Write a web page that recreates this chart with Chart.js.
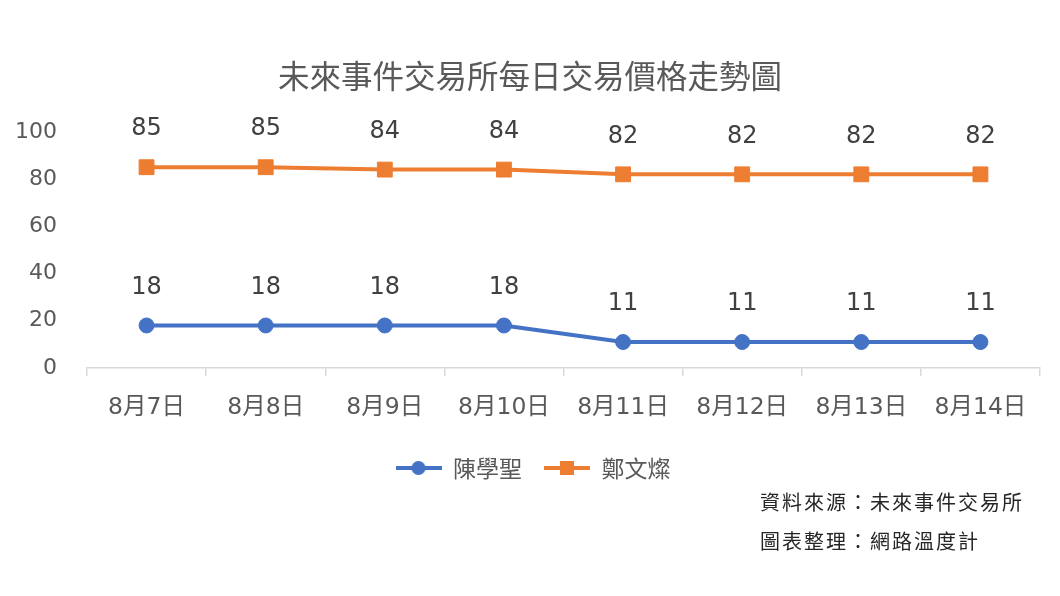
<!DOCTYPE html>
<html>
<head>
<meta charset="utf-8">
<script src="https://cdn.jsdelivr.net/npm/chart.js@4.4.1/dist/chart.umd.min.js"></script>
<style>
  html, body { margin: 0; padding: 0; background: #fff; }
  #wrap { position: relative; width: 1060px; height: 596px; }
  .source { position: absolute; left: 760px; font-family: "Noto Sans CJK TC", sans-serif; font-size: 20px; letter-spacing: 2px; color: #262626; line-height: 24px; white-space: nowrap; }
</style>
</head>
<body>
<div id="wrap">
  <canvas id="priceChart" width="1060" height="596"></canvas>
  <div class="source" style="top:490px;">資料來源：未來事件交易所</div>
  <div class="source" style="top:529px;">圖表整理：網路溫度計</div>
</div>
<script>
const days = ["8月7日", "8月8日", "8月9日", "8月10日", "8月11日", "8月12日", "8月13日", "8月14日"];
const chenValues = [18, 18, 18, 18, 11, 11, 11, 11];
const chengValues = [85, 85, 84, 84, 82, 82, 82, 82];
const seriesNames = ["陳學聖", "鄭文燦"];
const yTicks = [0, 20, 40, 60, 80, 100];

const blue = "#4472C4";
const orange = "#ED7D31";
// wide digits from DejaVu, chinese falls back to Noto CJK
const fontFamily = '"DejaVu Sans", "Noto Sans CJK TC", sans-serif';
const cjkFont = '"Noto Sans CJK TC", sans-serif';

// little line+marker pictures for the legend, like excel does
function legendMarker(color, square){
    const c = document.createElement("canvas");
    c.width = 46;
    c.height = 16;
    const g = c.getContext("2d");
    g.strokeStyle = color;
    g.lineWidth = 4;
    g.beginPath();
    g.moveTo(0, 8);
    g.lineTo(46, 8);
    g.stroke();
    g.fillStyle = color;
    if(square){
        g.fillRect(16, 1, 14, 14);
    }else{
        g.beginPath();
        g.arc(23, 8, 7, 0, Math.PI * 2);
        g.fill();
    }
    return c;
}
const legendImages = [legendMarker(blue, false), legendMarker(orange, true)];

const valueLabels = {
    id: "valueLabels",
    afterDatasetsDraw(chart){
        const ctx = chart.ctx;
        ctx.save();
        ctx.font = "24px " + fontFamily;
        ctx.fillStyle = "#404040";
        ctx.textAlign = "center";
        ctx.textBaseline = "middle";
        chart.data.datasets.forEach((ds, i) => {
            chart.getDatasetMeta(i).data.forEach((pt, j) => {
                ctx.fillText(ds.data[j], pt.x, pt.y - 38);
            });
        });
        ctx.restore();
    }
};

// the y labels need room on the left, so nudge title and legend back to the middle
const nudgeBoxes = {
    id: "nudgeBoxes",
    afterLayout(chart){
        if(chart.legend){ chart.legend.left += 7; chart.legend.right += 7; }
        if(chart.titleBlock){ chart.titleBlock.left += 4; chart.titleBlock.right += 4; }
    }
};

const ctx = document.getElementById("priceChart");
new Chart(ctx, {
    type: "line",
    data: {
        labels: days,
        datasets: [{
            label: seriesNames[0],
            data: chenValues,
            borderColor: blue,
            backgroundColor: blue,
            borderWidth: 4,
            pointStyle: "circle",
            pointRadius: 7.5,
            pointHoverRadius: 7.5,
            pointBorderWidth: 1,
            tension: 0
        }, {
            label: seriesNames[1],
            data: chengValues,
            borderColor: orange,
            backgroundColor: orange,
            borderWidth: 4,
            pointStyle: "rect",
            pointRadius: 10.5,
            pointHoverRadius: 10.5,
            pointBorderWidth: 1,
            tension: 0
        }]
    },
    options: {
        responsive: false,
        animation: false,
        layout: {
            padding: { left: 12, right: 20, top: 0, bottom: 106.5 }
        },
        scales: {
            x: {
                offset: true,
                grid: {
                    display: true,
                    offset: true,
                    drawOnChartArea: false,
                    drawTicks: true,
                    tickLength: 8,
                    color: "#d9d9d9",
                    lineWidth: 1.5
                },
                border: { display: true, color: "#d9d9d9", width: 1.5 },
                ticks: {
                    color: "#595959",
                    font: { family: fontFamily, size: 23.5 },
                    padding: 18,
                    maxRotation: 0,
                    autoSkip: false
                },
                afterFit(scale){ scale.height = 66.5; }
            },
            y: {
                min: 0,
                max: 100,
                afterBuildTicks(scale){ scale.ticks = yTicks.map(v => ({ value: v })); },
                grid: { display: false, drawTicks: false },
                border: { display: false },
                ticks: {
                    color: "#595959",
                    font: { family: fontFamily, size: 22 },
                    padding: 30
                },
                afterFit(scale){ scale.width = 75; }
            }
        },
        plugins: {
            title: {
                display: true,
                text: "未來事件交易所每日交易價格走勢圖",
                color: "#595959",
                font: { family: cjkFont, size: 31.5, weight: "normal" },
                padding: { top: 57, bottom: 37 }
            },
            legend: {
                position: "bottom",
                labels: {
                    color: "#595959",
                    font: { family: cjkFont, size: 23 },
                    usePointStyle: true,
                    pointStyleWidth: 46,
                    padding: 22,
                    generateLabels(chart){
                        const items = Chart.defaults.plugins.legend.labels.generateLabels(chart);
                        items.forEach((it, i) => { it.pointStyle = legendImages[i]; });
                        return items;
                    }
                }
            },
            tooltip: { enabled: false }
        }
    },
    plugins: [valueLabels, nudgeBoxes]
});
</script>
</body>
</html>
